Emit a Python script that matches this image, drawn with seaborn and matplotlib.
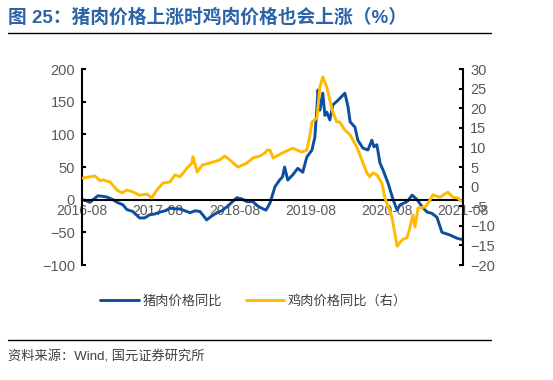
import pandas as pd
import seaborn as sns
import matplotlib.pyplot as plt
import matplotlib.dates as mdates

# pork price yoy (left axis, %)
pork_dates = ['2016-08-05', '2016-09-08', '2016-10-16', '2016-11-10', '2016-11-29', '2016-12-27',
              '2017-01-16', '2017-02-14', '2017-03-03', '2017-04-01', '2017-05-04', '2017-05-28',
              '2017-06-22', '2017-07-15', '2017-08-09', '2017-09-03', '2017-09-27', '2017-10-20',
              '2017-11-14', '2017-12-07', '2018-01-01', '2018-01-25', '2018-02-17', '2018-03-07',
              '2018-03-21', '2018-04-15', '2018-05-09', '2018-06-02', '2018-06-26', '2018-07-20',
              '2018-08-13', '2018-09-07', '2018-09-30', '2018-10-29', '2018-11-22', '2018-12-16',
              '2018-12-31', '2019-01-19', '2019-02-12', '2019-03-06', '2019-03-20', '2019-03-30',
              '2019-04-14', '2019-05-08', '2019-06-01', '2019-06-25', '2019-07-14', '2019-08-08',
              '2019-08-22', '2019-09-01', '2019-09-06', '2019-09-15', '2019-09-29', '2019-10-09',
              '2019-10-18', '2019-11-02', '2019-11-16', '2019-12-10', '2020-01-13', '2020-01-28',
              '2020-02-07', '2020-03-01', '2020-03-15', '2020-04-08', '2020-05-02', '2020-05-21',
              '2020-05-31', '2020-06-14', '2020-06-29', '2020-07-13', '2020-08-07', '2020-08-31',
              '2020-09-19', '2020-10-03', '2020-11-06', '2020-11-30', '2020-12-24', '2021-01-17',
              '2021-02-10', '2021-03-05', '2021-03-29', '2021-04-22', '2021-05-30', '2021-07-03',
              '2021-07-27']
pork_yoy = [0, -4, 6, 5, 4, 0,
            -4, -8, -15, -18, -28, -28,
            -23, -22, -19, -17, -13, -14,
            -14, -17, -20, -17, -18, -25,
            -31, -25, -20, -17, -11, -4,
            3, 1, -3, -3, -10, -14,
            -16, -5, 20, 30, 35, 50,
            30, 38, 48, 42, 65, 76,
            96, 142, 168, 137, 163, 129,
            134, 122, 145, 152, 163, 142,
            119, 111, 91, 79, 76, 91,
            81, 84, 56, 46, 25, 0,
            -16, -8, -3, 7, 0, -11,
            -19, -21, -27, -50, -54, -59,
            -61]

# chicken price yoy (right axis, %)
chicken_dates = ['2016-08-05', '2016-09-08', '2016-10-02', '2016-10-26', '2016-11-10', '2016-12-13',
                 '2017-01-16', '2017-02-09', '2017-03-03', '2017-04-01', '2017-05-04', '2017-06-08',
                 '2017-07-01', '2017-07-25', '2017-08-24', '2017-09-27', '2017-10-20', '2017-11-14',
                 '2017-12-17', '2018-01-10', '2018-01-15', '2018-02-04', '2018-02-28', '2018-04-05',
                 '2018-05-23', '2018-06-16', '2018-07-10', '2018-08-18', '2018-09-30', '2018-10-29',
                 '2018-11-17', '2018-12-02', '2018-12-26', '2019-01-05', '2019-01-19', '2019-02-03',
                 '2019-03-20', '2019-05-08', '2019-06-20', '2019-07-14', '2019-07-28', '2019-08-08',
                 '2019-09-01', '2019-09-15', '2019-09-29', '2019-10-18', '2019-11-02', '2019-11-16',
                 '2019-12-05', '2019-12-19', '2020-01-13', '2020-02-07', '2020-03-10', '2020-04-03',
                 '2020-04-27', '2020-05-11', '2020-05-26', '2020-06-14', '2020-07-08', '2020-07-22',
                 '2020-08-07', '2020-08-26', '2020-09-19', '2020-10-13', '2020-11-06', '2020-11-20',
                 '2020-12-04', '2020-12-14', '2020-12-28', '2021-02-01', '2021-02-15', '2021-03-09',
                 '2021-04-12', '2021-05-20', '2021-06-13', '2021-07-07', '2021-07-27']
chicken_yoy = [2.2, 2.5, 2.7, 1.5, 1.7, 1.2,
               -0.9, -1.6, -0.9, -1.3, -2.2, -1.9,
               -2.9, -0.9, 0.9, 1.2, 3.0, 2.5,
               4.7, 6.0, 7.6, 3.7, 5.5, 6.0,
               6.8, 7.8, 6.8, 5.0, 6.0, 7.3,
               7.6, 7.8, 8.6, 9.3, 9.3, 7.3,
               8.6, 9.8, 8.8, 9.3, 12.7, 16.5,
               17.5, 25.4, 28.0, 25.4, 22.0, 19.0,
               16.5, 16.5, 14.4, 13.2, 10.1, 6.8,
               3.5, 2.5, 3.5, 3.0, 0.9, -2.7,
               -5.2, -8.0, -15.2, -13.6, -13.0, -10.3,
               -7.2, -10.3, -5.5, -5.2, -4.2, -2.1,
               -2.7, -1.4, -2.7, -2.9, -3.9]

left_ticks = [-100, -50, 0, 50, 100, 150, 200]
right_ticks = [-20, -15, -10, -5, 0, 5, 10, 15, 20, 25, 30]

pork = pd.DataFrame({'date': pd.to_datetime(pork_dates), 'value': pork_yoy})
chicken = pd.DataFrame({'date': pd.to_datetime(chicken_dates), 'value': chicken_yoy})

sns.set_style('white')
plt.rcParams['font.family'] = ['Liberation Sans', 'Noto Sans CJK SC']

blue = '#0D4EA0'
gold = '#FFBA00'
grey = '#595959'

fig = plt.figure(figsize=(5.53, 3.80), dpi=100)
ax = fig.add_axes([0.1483, 0.3026, 0.689, 0.5158])
ax2 = ax.twinx()

sns.lineplot(data=pork, x='date', y='value', ax=ax, color=blue, linewidth=2.1, label='猪肉价格同比', legend=False)
sns.lineplot(data=chicken, x='date', y='value', ax=ax2, color=gold, linewidth=2.1, label='鸡肉价格同比（右）', legend=False)

ax.set_xlim(pd.Timestamp('2016-08-01'), pd.Timestamp('2021-08-01'))
ax.set_ylim(-100, 200)
ax.set_yticks(left_ticks)
ax2.set_ylim(-20, 30)
ax2.set_yticks(right_ticks)
ax.xaxis.set_major_locator(mdates.MonthLocator(bymonth=8))
ax.xaxis.set_major_formatter(mdates.DateFormatter('%Y-%m'))
ax.set_xlabel('')
ax.set_ylabel('')
ax2.set_ylabel('')

for s in ['top', 'right']:
    ax.spines[s].set_visible(False)
for s in ['top', 'bottom', 'left']:
    ax2.spines[s].set_visible(False)
ax.spines['bottom'].set_position(('data', 0))
for sp in [ax.spines['left'], ax.spines['bottom'], ax2.spines['right']]:
    sp.set_color('black')
    sp.set_linewidth(1.5)

ax.tick_params(axis='y', direction='in', length=3, width=1.5, color='black', labelsize=10.5, labelcolor=grey, pad=5)
ax.tick_params(axis='x', direction='in', length=3, width=1.5, color='black', labelsize=10, labelcolor=grey, pad=3)
ax2.tick_params(axis='y', direction='in', length=3, width=1.5, color='black', labelsize=10.5, labelcolor=grey, pad=5)

# title and rules
fig.text(8 / 553, 1 - 18 / 380, '图 25：猪肉价格上涨时鸡肉价格也会上涨（%）', fontsize=13.5, fontweight='bold',
         color='#2B63A8', va='center', ha='left')
fig.add_artist(plt.Line2D([8 / 553, 491 / 553], [1 - 33 / 380, 1 - 33 / 380], color='black', linewidth=1))
fig.add_artist(plt.Line2D([8 / 553, 491 / 553], [1 - 340 / 380, 1 - 340 / 380], color='black', linewidth=1))
fig.text(8 / 553, 1 - 357 / 380, '资料来源：Wind, 国元证券研究所', fontsize=9.5, color='#404040', va='center', ha='left')

h1, l1 = ax.get_legend_handles_labels()
h2, l2 = ax2.get_legend_handles_labels()
fig.legend(h1 + h2, l1 + l2, loc='center', bbox_to_anchor=(0.459, 1 - 301 / 380), ncol=2, frameon=False,
           fontsize=9.5, labelcolor='#404040', handlelength=2.9, columnspacing=1.8, handletextpad=0.3)

plt.savefig('out.png', dpi=100)
